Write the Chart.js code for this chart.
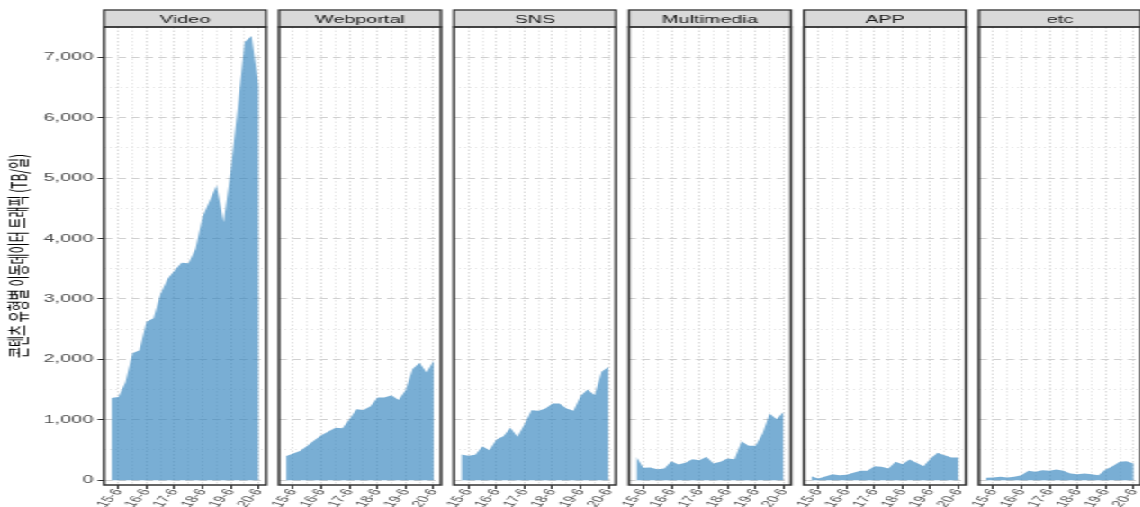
<!DOCTYPE html>
<html>
<head>
<meta charset="utf-8">
<script src="https://cdn.jsdelivr.net/npm/chart.js@4/dist/chart.umd.min.js"></script>
<style>
  html, body { margin: 0; padding: 0; background: #fff; overflow: hidden; }
  /* panels are laid out narrow and stretched sideways */
  #stage { position: absolute; left: 0; top: 0; height: 507px; transform-origin: 0 0; }
  #stage canvas { position: absolute; top: 0; }
</style>
</head>
<body>
<div id="stage"></div>
<script>
/* ---------- DATA ---------- */

const quarters = [
  "15-3", "15-6", "15-9", "15-12", "16-3", "16-6", "16-9", "16-12",
  "17-3", "17-6", "17-9", "17-12", "18-3", "18-6", "18-9", "18-12",
  "19-3", "19-6", "19-9", "19-12", "20-3", "20-6",
];
const xTickLabels = ["15-6", "16-6", "17-6", "18-6", "19-6", "20-6"];
const yTickValues = [0, 1000, 2000, 3000, 4000, 5000, 6000, 7000];

const panelNames = ["Video", "Webportal", "SNS", "Multimedia", "APP", "etc"];

const video = [1360, 1375, 1620, 2100, 2150, 2620, 2680, 3080, 3330, 3470, 3600,
  3590, 3830, 4360, 4620, 4880, 4270, 5100, 6150, 7250, 7350, 6520];
const webportal = [400, 440, 486, 570, 660, 745, 805, 866, 860, 1010, 1175,
  1160, 1225, 1370, 1370, 1405, 1325, 1490, 1840, 1945, 1780, 1975];
const sns = [425, 403, 419, 563, 497, 673, 728, 866, 717, 927, 1159,
  1148, 1187, 1270, 1270, 1187, 1148, 1391, 1501, 1407, 1793, 1876];
const multimedia = [386, 204, 209, 182, 193, 315, 259, 287, 348, 331, 386,
  276, 303, 359, 348, 646, 568, 568, 773, 1104, 1010, 1131];
const app = [66, 28, 60, 99, 83, 88, 121, 154, 154, 232, 221,
  193, 303, 265, 342, 287, 232, 359, 453, 414, 375, 375];
const etc = [39, 44, 55, 44, 55, 83, 154, 138, 166, 154, 177,
  154, 110, 99, 110, 99, 83, 177, 232, 303, 315, 276];

const panelValues = [video, webportal, sns, multimedia, app, etc];

const yTitle = "콘텐츠 유형별 이동데이터 트래픽 (TB/일)";

/* ---------- LAYOUT ---------- */

const SX = 1.8;                 // horizontal stretch of the whole figure
const PANEL_LEFT0 = 104 / SX;
const PANEL_STEP = 175 / SX;
const PANEL_W = 162 / SX;
const STRIP_TOP = 10;
const PLOT_TOP = 27;
const X_AXIS_H = 22;
const H = 507;

const FONT = '"Liberation Sans", Arial, sans-serif';
const FILL = "rgba(49, 130, 189, 0.65)";

const stage = document.getElementById("stage");
stage.style.width = 1140 / SX + "px";
stage.style.transform = `scaleX(${SX})`;

/* ---------- TICK HELPERS ---------- */

const majorX = xTickLabels.map((l) => quarters.indexOf(l));
const minorX = majorX.slice(0, -1).map((v) => v + 2);
const gridX = [...majorX, ...minorX].sort((a, b) => a - b);
const isMajorX = (v) => majorX.includes(v);

const gridY = [];
yTickValues.forEach((v, i) => {
  gridY.push(v);
  if (i < yTickValues.length - 1) gridY.push((v + yTickValues[i + 1]) / 2);
});
const isMajorY = (v) => yTickValues.includes(v);

/* ---------- STRIP + PANEL BORDER ---------- */

const panelFrame = {
  id: "panelFrame",
  afterDraw(chart, args, opts) {
    const { ctx, chartArea: a } = chart;
    ctx.save();
    ctx.fillStyle = "#d9d9d9";
    ctx.fillRect(a.left, STRIP_TOP, a.width, a.top - STRIP_TOP);
    ctx.strokeStyle = "#333333";
    ctx.lineWidth = 1.3;
    ctx.strokeRect(a.left, STRIP_TOP, a.width, a.top - STRIP_TOP);

    ctx.fillStyle = "#1a1a1a";
    ctx.font = `11px ${FONT}`;
    ctx.textAlign = "center";
    ctx.textBaseline = "middle";
    ctx.fillText(opts.title, (a.left + a.right) / 2, (STRIP_TOP + a.top) / 2 + 1);

    ctx.lineWidth = 1.5;
    ctx.strokeRect(a.left, a.top, a.width, a.height);
    ctx.restore();
  },
};

/* ---------- PANELS ---------- */

panelNames.forEach((name, k) => {
  const first = k === 0;
  const panelLeft = PANEL_LEFT0 + k * PANEL_STEP;
  const canvasLeft = first ? 0 : Math.floor(panelLeft - 14);
  const padLeft = first ? 0 : panelLeft - canvasLeft;
  const yAxisW = first ? panelLeft : 0;
  const width = Math.ceil(panelLeft - canvasLeft + PANEL_W + 4);
  const padRight = width - (panelLeft - canvasLeft) - PANEL_W;

  const canvas = document.createElement("canvas");
  canvas.width = width;
  canvas.height = H;
  canvas.style.left = canvasLeft + "px";
  canvas.style.width = width + "px";
  canvas.style.height = H + "px";
  stage.appendChild(canvas);

  new Chart(canvas, {
    type: "line",
    data: {
      datasets: [
        {
          label: name,
          data: panelValues[k].map((v, i) => ({ x: i, y: v })),
          backgroundColor: FILL,
          borderColor: "rgba(0,0,0,0)",
          borderWidth: 0,
          pointRadius: 0,
          tension: 0,
          fill: "origin",
        },
      ],
    },
    options: {
      responsive: false,
      animation: false,
      devicePixelRatio: 1,
      layout: { padding: { left: padLeft, right: padRight, top: PLOT_TOP, bottom: 0 } },
      plugins: {
        legend: { display: false },
        tooltip: { enabled: false },
        panelFrame: { title: name },
      },
      scales: {
        x: {
          type: "linear",
          min: -1.05,
          max: quarters.length - 1 + 1.05,
          afterBuildTicks: (s) => {
            s.ticks = gridX.map((v) => ({ value: v }));
          },
          afterFit: (s) => {
            s.height = X_AXIS_H;
            s.paddingLeft = 0;
            s.paddingRight = 0;
          },
          ticks: {
            autoSkip: false,
            minRotation: 60,
            maxRotation: 60,
            padding: -2,
            color: "#4d4d4d",
            font: { family: FONT, size: 9.5 },
            callback: (v) => (isMajorX(v) ? quarters[v] : ""),
          },
          grid: {
            color: (c) => (isMajorX(c.tick.value) ? "#d2d2d2" : "#e2e2e2"),
            lineWidth: 0.8,
            tickColor: (c) => (isMajorX(c.tick.value) ? "#333333" : "rgba(0,0,0,0)"),
            tickLength: 4,
            tickWidth: 1,
          },
          border: { display: false, dash: [1.5, 2] },
        },
        y: {
          min: -80,
          max: 7500,
          afterBuildTicks: (s) => {
            s.ticks = gridY.map((v) => ({ value: v }));
          },
          afterFit: (s) => {
            s.width = yAxisW;
            s.paddingTop = 0;
            s.paddingBottom = 0;
          },
          title: {
            display: first,
            text: yTitle,
            color: "#000000",
            font: { family: '"Noto Sans CJK KR", sans-serif', size: 12 },
            padding: { top: 3, bottom: 3 },
          },
          ticks: {
            display: first,
            autoSkip: false,
            padding: 2.5,
            color: "#4d4d4d",
            font: { family: FONT, size: 11 },
            callback: (v) => (isMajorY(v) ? v.toLocaleString("en-US") : ""),
          },
          grid: {
            drawTicks: first,
            color: (c) => (isMajorY(c.tick.value) ? "#d0d0d0" : "#e6e6e6"),
            lineWidth: 1,
            tickColor: (c) => (isMajorY(c.tick.value) ? "#333333" : "rgba(0,0,0,0)"),
            tickLength: 3.5,
            tickWidth: 1,
          },
          border: {
            display: false,
            dash: (c) => (isMajorY(c.tick.value) ? [4.5, 3] : [1, 2]),
          },
        },
      },
    },
    plugins: [panelFrame],
  });
});
</script>
</body>
</html>
